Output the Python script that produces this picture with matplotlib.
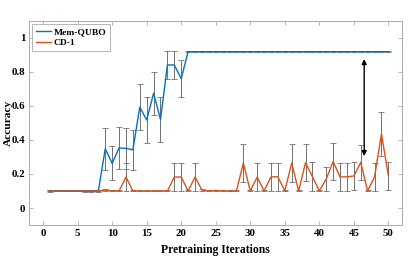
import numpy as np
import matplotlib.pyplot as plt

plt.rcParams['font.family'] = ['Liberation Serif', 'DejaVu Serif']
plt.rcParams['font.weight'] = 'bold'

# Data
iters = np.arange(1, 51)

mem_qubo = [0.10, 0.10, 0.10, 0.10, 0.10, 0.10, 0.10, 0.10, 0.348, 0.262,
            0.353, 0.350, 0.342, 0.592, 0.517, 0.674, 0.520, 0.840, 0.840, 0.760,
            0.918, 0.918, 0.918, 0.918, 0.918, 0.918, 0.918, 0.918, 0.918, 0.918,
            0.918, 0.918, 0.918, 0.918, 0.918, 0.918, 0.918, 0.918, 0.918, 0.918,
            0.918, 0.918, 0.918, 0.918, 0.918, 0.918, 0.918, 0.918, 0.918, 0.918]
mem_qubo_err = [0.004, 0.003, 0.003, 0.003, 0.003, 0.004, 0.005, 0.004, 0.122, 0.100,
                0.122, 0.122, 0.118, 0.135, 0.135, 0.125, 0.132, 0.082, 0.080, 0.110,
                0.003, 0.002, 0.002, 0.002, 0.002, 0.002, 0.002, 0.002, 0.002, 0.002,
                0.002, 0.002, 0.002, 0.002, 0.002, 0.002, 0.002, 0.002, 0.002, 0.002,
                0.002, 0.002, 0.002, 0.002, 0.002, 0.002, 0.002, 0.002, 0.002, 0.002]

cd1 = [0.10, 0.10, 0.10, 0.10, 0.10, 0.10, 0.10, 0.10, 0.106, 0.10,
       0.10, 0.182, 0.10, 0.10, 0.10, 0.10, 0.10, 0.10, 0.182, 0.182,
       0.10, 0.182, 0.106, 0.10, 0.103, 0.10, 0.10, 0.10, 0.264, 0.10,
       0.182, 0.10, 0.183, 0.183, 0.10, 0.264, 0.10, 0.266, 0.185, 0.10,
       0.170, 0.273, 0.183, 0.183, 0.188, 0.268, 0.10, 0.183, 0.435, 0.190]
cd1_err = [0.003, 0.003, 0.003, 0.003, 0.003, 0.003, 0.003, 0.003, 0.004, 0.003,
           0.003, 0.082, 0.003, 0.003, 0.003, 0.003, 0.003, 0.003, 0.082, 0.082,
           0.003, 0.082, 0.004, 0.003, 0.004, 0.003, 0.003, 0.003, 0.110, 0.003,
           0.082, 0.003, 0.082, 0.082, 0.003, 0.110, 0.003, 0.110, 0.085, 0.003,
           0.070, 0.110, 0.082, 0.082, 0.085, 0.105, 0.003, 0.082, 0.130, 0.082]

fig = plt.figure(figsize=(4.15, 2.56), dpi=100)
ax = fig.add_axes([0.0706, 0.121, 0.8985, 0.798])

err_kw = dict(ecolor='#707070', elinewidth=0.7, capsize=2.3, capthick=0.6, fmt='none')
ax.errorbar(iters, mem_qubo, yerr=mem_qubo_err, **err_kw)
ax.errorbar(iters, cd1, yerr=cd1_err, **err_kw)
ax.plot(iters, mem_qubo, color='#0072BD', lw=1.0, label='Mem-QUBO')
ax.plot(iters, cd1, color='#D95319', lw=1.0, label='CD-1')

# gap arrow
ax.annotate('', xy=(46.5, 0.875), xytext=(46.5, 0.305),
            arrowprops=dict(arrowstyle='<|-|>', color='black', lw=1.0,
                            mutation_scale=7, shrinkA=0, shrinkB=0))

ax.set_xlim(-2, 52)
ax.set_ylim(-0.1, 1.1)
ax.set_xticks(np.arange(0, 51, 5))
ax.set_yticks([0, 0.2, 0.4, 0.6, 0.8, 1])
ax.set_yticklabels(['0', '0.2', '0.4', '0.6', '0.8', '1'])
ax.tick_params(direction='in', top=True, right=True, length=3, width=0.5,
               color='#999999', labelsize=7.8, pad=3)
for s in ax.spines.values():
    s.set_color('#aaaaaa')
    s.set_linewidth(0.7)

ax.set_xlabel('Pretraining Iterations', fontsize=8.4, fontweight='bold')
ax.set_ylabel('Accuracy', fontsize=8.2, fontweight='bold')
ax.xaxis.set_label_coords(0.5, -0.095)
ax.yaxis.set_label_coords(-0.045, 0.5)

leg = ax.legend(loc='upper left', fontsize=6.8, handlelength=1.6, borderpad=0.4,
                labelspacing=0.3, handletextpad=0.3, borderaxespad=0.3,
                fancybox=False, framealpha=1)
leg.get_frame().set_edgecolor('#aaaaaa')
leg.get_frame().set_linewidth(0.6)

fig.savefig('out.png', dpi=100)
